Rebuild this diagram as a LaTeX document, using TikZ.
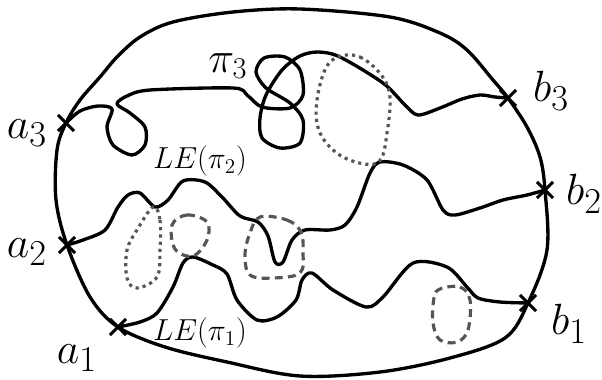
\documentclass[tikz,border=0pt]{standalone}
\usetikzlibrary{shapes.misc}
\definecolor{grisLazo}{HTML}{555555}
\colorlet{colCamino}{black}
\tikzset{
  caminoBase/.style={draw=colCamino, line width=1.9pt, line join=round, line cap=round},
  lazoPunteado/.style={draw=grisLazo, line width=1.8pt, dash pattern=on 1.8pt off 2.3pt},
  lazoGuiones/.style={draw=grisLazo, line width=1.8pt, dash pattern=on 4.5pt off 3pt},
  marcaPunto/.style={draw=colCamino, cross out, line width=1.8pt, minimum size=0.26cm, inner sep=0pt},
  etiquetaPunto/.style={font=\fontsize{30}{30}\selectfont, inner sep=0pt},
  etiquetaCamino/.style={font=\fontsize{16.5}{16.5}\selectfont, inner sep=0pt},
}

\begin{document}
\begin{tikzpicture}[x=0.02cm, y=-0.02cm]
  \useasboundingbox (0,0) rectangle (602,379);

  % extremos de los caminos
  \coordinate (a3) at (66,123);
  \coordinate (a2) at (67,245);
  \coordinate (a1) at (118,327);
  \coordinate (b3) at (508,98);
  \coordinate (b2) at (545,190);
  \coordinate (b1) at (528,303);

  % frontera del dominio
  \draw[caminoBase] plot[smooth cycle, tension=0.55] coordinates {
    (a3) (80,100) (100,77) (117,57) (140,37) (173,22) (233,12) (300,9)
    (390,17) (440,33) (467,50) (493,80) (b3) (527,127) (540,157) (b2)
    (547,250) (b1) (505,338) (450,358) (380,372) (300,376) (227,362)
    (165,347) (a1) (90,297) (a2) (56,200) (57,150)};

  % camino pi_3 con sus lazos
  \draw[caminoBase] plot[smooth, tension=0.5] coordinates {
    (a3) (80,111) (98,106) (112,109) (107,127) (113,145) (132,155)
    (145,145) (145,127) (130,113) (117,104) (127,96) (150,90) (233,88)
    (247,95) (262,107) (290,108) (303,95) (300,70) (285,57) (264,58)
    (256,72) (266,88) (290,103) (303,120) (300,143) (280,148) (262,138)
    (260,118) (266,95) (282,70) (300,56) (318,52) (340,57) (383,83)
    (405,105) (418,115) (440,108) (462,99) (480,95) (495,97) (b3)};

  % camino LE(pi_2)
  \draw[caminoBase] plot[smooth, tension=0.5] coordinates {
    (a2) (83,240) (105,230) (118,207) (128,195) (140,193) (155,207)
    (168,200) (183,181) (205,182) (222,197) (240,216) (258,222)
    (268,236) (275,262) (283,262) (292,240) (305,230) (330,230)
    (345,225) (357,207) (370,173) (380,162) (403,165) (427,180)
    (443,210) (455,215) (480,208) (503,200) (527,195) (b2)};

  % camino LE(pi_1)
  \draw[caminoBase] plot[smooth, tension=0.5] coordinates {
    (a1) (140,322) (157,313) (173,287) (183,263) (193,257) (213,265)
    (227,274) (237,300) (257,320) (277,317) (296,300) (302,280)
    (312,273) (333,290) (366,307) (383,297) (413,263) (447,267)
    (467,287) (478,298) (500,302) (b1)};

  % lazos borrados
  \draw[lazoPunteado] plot[smooth cycle, tension=0.6] coordinates {
    (330,62) (360,57) (388,87) (387,133) (377,163) (343,157) (320,133)
    (317,100)};
  \draw[lazoPunteado] plot[smooth cycle, tension=0.6] coordinates {
    (153,207) (160,220) (160,250) (157,277) (137,288) (127,278)
    (127,250) (137,230)};
  \draw[lazoGuiones] plot[smooth cycle, tension=0.6] coordinates {
    (172,225) (187,215) (207,222) (207,240) (193,256) (175,249)};
  \draw[lazoGuiones] plot[smooth cycle, tension=0.6] coordinates {
    (260,217) (287,220) (301,232) (303,252) (300,273) (273,278)
    (250,275) (245,255) (250,233)};
  \draw[lazoGuiones] plot[smooth cycle, tension=0.6] coordinates {
    (440,289) (460,287) (470,300) (468,330) (457,342) (440,340)
    (433,323) (434,298)};

  % marcas de los extremos
  \foreach \p in {a1,a2,a3,b1,b2,b3}
    \node[marcaPunto] (m\p) at (\p) {};

  % etiquetas
  \node[etiquetaPunto] (la3) at (27,133) {$a_3$};
  \node[etiquetaPunto] (la2) at (27,252) {$a_2$};
  \node[etiquetaPunto] (la1) at (77,358) {$a_1$};
  \node[etiquetaPunto] (lb3) at (551,91) {$b_3$};
  \node[etiquetaPunto] (lb2) at (584,194) {$b_2$};
  \node[etiquetaPunto] (lb1) at (569,324) {$b_1$};
  \node[font=\fontsize{23}{23}\selectfont, inner sep=0pt] (lpi3) at (228,66) {$\pi_3$};
  \node[etiquetaCamino] (lle2) at (200,161) {$LE(\pi_2)$};
  \node[etiquetaCamino] (lle1) at (200,333) {$LE(\pi_1)$};
\end{tikzpicture}
\end{document}
